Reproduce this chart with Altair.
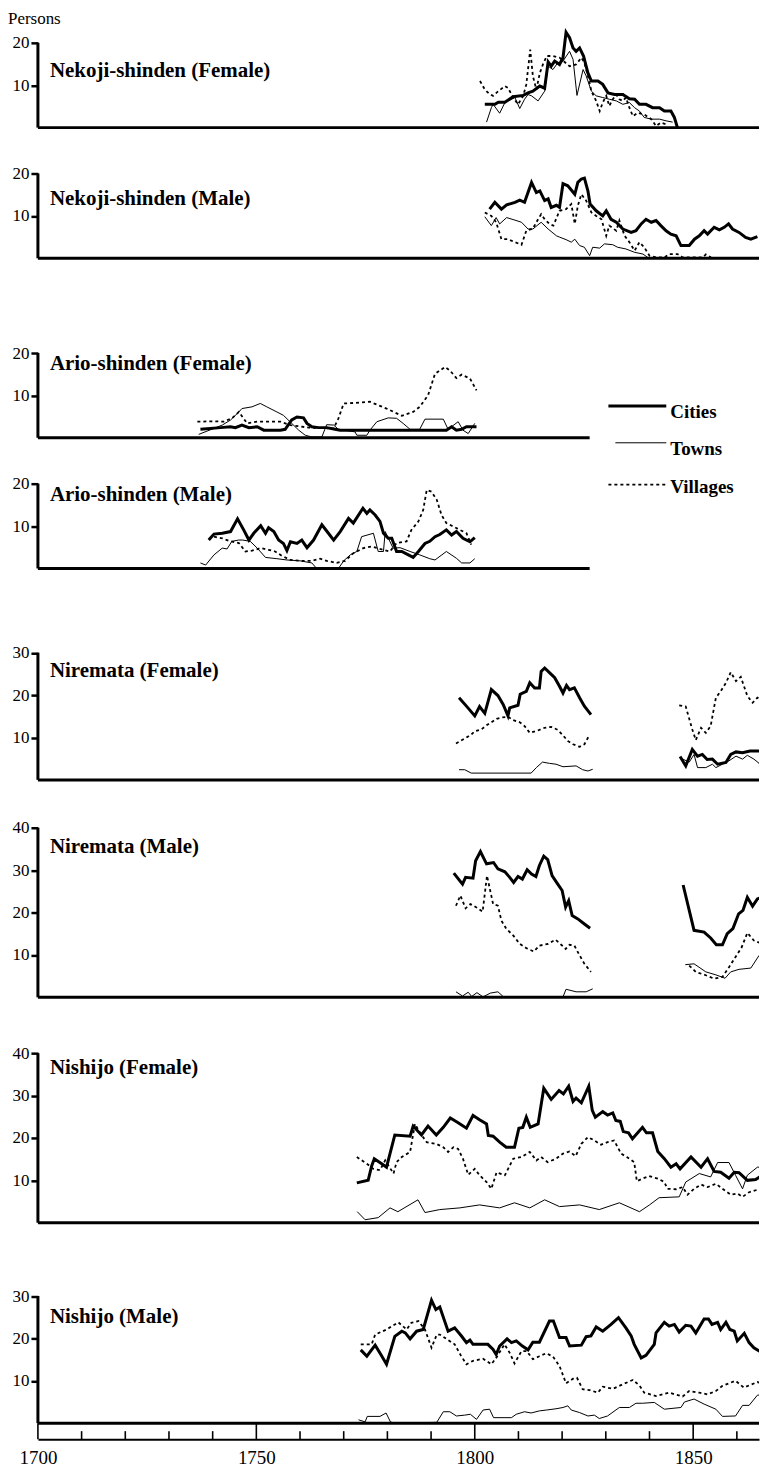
import altair as alt
import pandas as pd

FONT = "Liberation Serif"
YEAR_MIN, YEAR_MAX = 1700, 1865.07
PLOT_W = 723
K = 4.25  # pixels per person

# ---------------- data: (year, persons) ----------------
NEKOJI_F_CITIES = [(1802.3,5.5),(1804.6,5.5),(1805.4,6.0),(1806.9,6.0),(1808.8,7.3),(1811.1,7.6),(1812.2,8.2),(1813.3,8.6),(1814.9,9.8),(1816.0,9.3),(1816.8,15.5),(1817.5,14.5),(1818.3,15.7),(1819.4,14.9),(1820.2,16.5),(1820.9,22.5),(1821.7,21.2),(1822.5,18.8),(1823.2,18.0),(1824.0,18.8),(1824.9,16.9),(1825.9,12.9),(1826.7,11.0),(1828.2,11.0),(1829.3,10.2),(1830.5,8.2),(1832.0,7.8),(1833.9,7.8),(1835.4,6.8),(1836.6,6.7),(1837.7,5.5),(1839.2,5.5),(1840.7,4.7),(1842.3,4.7),(1843.4,3.9),(1844.9,3.9),(1845.7,2.4),(1846.4,0.0)]
NEKOJI_F_TOWNS = [(1802.7,1.3),(1803.8,4.7),(1804.2,5.5),(1805.7,3.4),(1806.9,5.9),(1809.2,7.1),(1810.3,4.5),(1811.4,6.7),(1812.2,7.8),(1813.0,7.5),(1814.5,6.3),(1816.0,8.6),(1816.8,14.5),(1817.9,13.7),(1819.0,15.3),(1820.2,15.7),(1821.7,18.0),(1822.5,16.1),(1823.4,7.6),(1824.8,13.7),(1825.5,12.2),(1826.7,8.6),(1827.8,7.5),(1829.3,7.1),(1830.8,6.7),(1832.4,6.3),(1833.9,5.5),(1835.4,5.9),(1836.6,4.7),(1837.7,3.9),(1838.8,2.4),(1840.4,2.0),(1842.3,2.0),(1843.8,1.6),(1845.3,1.3)]
NEKOJI_F_VILLAGES = [(1801.2,11.0),(1802.3,9.0),(1803.4,7.9),(1804.2,7.5),(1805.4,8.6),(1806.9,9.8),(1807.6,9.4),(1808.8,7.1),(1809.9,5.5),(1811.1,7.5),(1811.8,10.2),(1812.7,18.4),(1813.3,12.2),(1814.1,9.0),(1814.9,12.9),(1815.6,14.9),(1816.5,16.9),(1817.9,16.9),(1819.4,16.5),(1821.7,14.5),(1823.2,14.9),(1824.4,16.5),(1825.1,15.3),(1825.9,12.2),(1826.7,8.6),(1827.8,6.3),(1828.6,3.9),(1829.3,5.9),(1830.1,7.5),(1830.8,5.1),(1831.6,6.7),(1832.4,7.8),(1833.1,6.7),(1833.9,6.3),(1834.6,7.1),(1835.4,4.7),(1836.2,2.7),(1837.3,3.5),(1838.8,3.1),(1840.4,2.0),(1841.5,0.4),(1842.6,1.2),(1843.8,0.8)]

NEKOJI_M_CITIES = [(1803.4,11.6),(1804.6,13.2),(1806.1,11.6),(1807.3,12.6),(1809.2,13.2),(1810.3,13.7),(1811.4,13.2),(1813.0,17.9),(1814.1,15.5),(1814.9,15.9),(1816.0,13.6),(1816.8,14.0),(1817.5,12.0),(1818.7,12.5),(1819.4,12.0),(1820.2,17.6),(1821.3,17.1),(1822.9,15.1),(1823.6,17.9),(1824.4,18.7),(1825.1,18.9),(1825.9,15.9),(1826.4,12.8),(1827.8,11.2),(1829.3,10.0),(1830.1,11.2),(1831.2,9.2),(1832.4,8.5),(1833.9,6.9),(1835.8,6.1),(1836.9,6.5),(1838.1,8.1),(1839.2,9.2),(1840.4,8.5),(1841.5,8.9),(1842.6,7.7),(1843.8,6.5),(1844.9,5.7),(1846.1,5.3),(1847.2,3.0),(1849.1,3.0),(1850.3,4.5),(1851.4,5.3),(1852.5,6.5),(1853.3,5.7),(1854.8,7.3),(1856.0,6.7),(1857.1,7.3),(1858.1,8.1),(1859.0,6.9),(1860.5,6.1),(1862.0,4.9),(1863.2,4.5),(1864.7,5.1)]
NEKOJI_M_TOWNS = [(1802.3,9.8),(1803.8,7.7),(1804.9,9.6),(1805.7,8.1),(1807.3,9.6),(1809.2,9.0),(1810.7,8.5),(1812.2,6.9),(1813.3,6.9),(1815.2,8.5),(1816.8,6.9),(1818.7,5.3),(1819.4,5.0),(1820.9,4.4),(1822.1,3.8),(1822.9,4.5),(1824.0,3.0),(1825.1,2.6),(1826.3,0.6),(1827.0,2.6),(1828.6,2.4),(1829.7,3.4),(1831.6,3.2),(1832.7,2.6),(1834.6,2.2),(1836.6,1.4),(1838.5,1.0),(1839.6,0.2),(1841.0,0.0)]
NEKOJI_M_VILLAGES = [(1802.3,10.8),(1803.8,10.0),(1804.9,8.5),(1806.1,4.5),(1807.6,4.5),(1809.2,3.8),(1810.7,3.2),(1811.8,6.5),(1813.3,7.0),(1814.5,9.2),(1815.2,10.4),(1816.0,9.2),(1817.1,8.1),(1818.0,7.7),(1819.4,11.2),(1820.9,11.6),(1822.1,12.8),(1822.9,8.1),(1823.6,12.4),(1824.4,15.1),(1825.5,13.6),(1826.7,10.8),(1827.8,10.0),(1829.0,9.2),(1830.1,5.3),(1830.8,7.7),(1832.4,6.5),(1833.1,8.9),(1834.3,5.3),(1835.4,3.8),(1836.6,1.8),(1837.7,3.8),(1838.8,2.6),(1840.0,0.6),(1841.5,0.2),(1843.4,0.2),(1844.5,1.0),(1846.4,1.0),(1847.6,0.2),(1852.2,0.2),(1852.9,0.9),(1854.1,0.2)]

ARIO_F_CITIES = [(1737.2,2.0),(1741.8,2.4),(1744.1,2.6),(1745.2,2.4),(1746.7,3.0),(1748.3,2.4),(1750.2,2.6),(1751.7,1.8),(1755.5,1.8),(1756.6,2.0),(1758.1,4.2),(1759.3,4.9),(1760.8,4.7),(1761.6,3.4),(1762.7,2.6),(1764.2,2.4),(1766.1,2.4),(1768.0,2.0),(1769.2,1.8),(1793.5,1.8),(1794.7,2.6),(1795.8,1.8),(1797.0,2.0),(1798.1,2.6),(1800.4,2.6)]
ARIO_F_TOWNS = [(1736.8,0.8),(1742.2,3.0),(1744.1,4.2),(1746.0,6.1),(1746.7,6.9),(1749.0,7.3),(1750.9,8.1),(1752.4,7.3),(1754.7,6.1),(1756.2,5.3),(1758.1,3.4),(1759.7,1.8),(1761.2,0.6),(1762.7,0.2),(1765.0,0.2),(1766.1,3.1),(1767.7,3.0),(1768.8,2.0),(1772.6,1.4),(1773.0,0.6),(1775.3,0.6),(1776.0,1.8),(1777.6,3.8),(1780.2,4.7),(1782.1,4.6),(1783.6,3.4),(1785.2,2.0),(1787.4,2.0),(1788.6,4.4),(1792.8,4.4),(1793.9,2.0),(1796.2,3.8),(1797.3,1.8),(1798.5,1.0),(1800.0,3.4)]
ARIO_F_VILLAGES = [(1736.5,3.8),(1740.3,3.9),(1742.5,3.8),(1744.4,4.6),(1746.0,6.1),(1747.9,3.4),(1750.2,3.8),(1755.5,3.8),(1757.8,3.0),(1762.0,2.4),(1767.7,2.2),(1768.8,4.6),(1770.0,8.1),(1770.7,8.1),(1776.0,8.5),(1779.8,6.9),(1783.3,5.2),(1785.9,6.1),(1787.4,7.3),(1789.3,10.0),(1790.9,15.1),(1793.2,16.7),(1794.3,15.9),(1795.8,14.1),(1797.0,14.9),(1798.9,14.0),(1800.4,11.2)]

ARIO_M_CITIES = [(1739.1,6.7),(1740.3,8.1),(1742.2,8.3),(1744.1,8.7),(1745.7,11.7),(1747.1,9.1),(1748.3,6.7),(1749.4,8.3),(1751.0,10.1),(1752.1,8.3),(1752.8,9.6),(1754.0,8.7),(1755.1,6.7),(1756.2,5.9),(1757.0,4.2),(1757.8,6.3),(1759.3,5.9),(1760.4,6.7),(1761.6,4.9),(1763.1,6.7),(1765.0,10.3),(1766.5,8.3),(1767.7,6.7),(1769.2,8.7),(1771.1,11.8),(1772.2,10.7),(1774.4,14.2),(1775.3,13.0),(1776.0,13.8),(1777.2,12.6),(1778.3,11.1),(1779.1,8.3),(1780.2,7.1),(1781.0,7.1),(1782.1,4.0),(1783.3,4.0),(1784.8,3.2),(1785.9,2.6),(1787.1,4.0),(1788.6,5.9),(1789.7,6.4),(1790.9,7.5),(1792.0,8.0),(1793.5,9.1),(1794.7,7.9),(1795.8,8.7),(1797.3,7.1),(1798.9,6.3),(1800.0,7.3)]
ARIO_M_TOWNS = [(1737.2,1.3),(1738.4,0.8),(1740.3,3.2),(1742.2,4.8),(1743.3,4.6),(1744.4,6.4),(1745.9,6.7),(1746.9,6.7),(1748.6,6.4),(1750.2,4.8),(1752.1,2.6),(1754.7,2.3),(1757.0,2.0),(1760.0,1.8),(1762.7,1.3),(1763.8,0.0),(1768.8,0.0),(1770.0,1.8),(1771.5,3.2),(1773.0,4.0),(1774.1,7.5),(1776.8,8.3),(1777.9,4.0),(1779.1,4.0),(1779.5,8.7),(1781.3,4.8),(1782.9,4.9),(1785.2,4.0),(1787.4,3.2),(1789.7,2.3),(1790.9,2.0),(1793.5,4.0),(1795.8,2.4),(1797.0,1.3),(1798.9,1.3),(1800.0,2.3)]
ARIO_M_VILLAGES = [(1740.3,7.5),(1742.2,7.1),(1744.1,6.4),(1746.0,6.0),(1747.5,4.0),(1749.0,4.2),(1751.0,4.8),(1752.8,4.4),(1754.3,4.0),(1755.8,3.0),(1757.8,2.0),(1760.4,1.8),(1762.7,1.8),(1764.6,2.3),(1766.1,1.8),(1768.4,1.3),(1770.3,1.8),(1772.2,3.6),(1774.5,4.8),(1776.4,5.2),(1778.3,4.6),(1780.6,4.0),(1782.1,6.0),(1784.4,6.4),(1785.5,9.1),(1787.1,11.1),(1788.2,13.8),(1789.0,18.5),(1790.1,18.1),(1791.3,16.2),(1792.4,12.6),(1793.5,10.7),(1795.1,9.9),(1798.1,8.3),(1799.2,5.6)]

NIREMATA_F_CITIES_A = [(1796.4,19.4),(1798.1,17.4),(1800.0,15.1),(1801.1,17.3),(1802.3,15.7),(1803.8,21.3),(1805.3,19.9),(1806.5,17.8),(1807.6,15.1),(1808.0,17.0),(1809.9,17.6),(1810.4,20.2),(1811.8,20.9),(1812.6,22.9),(1813.7,21.7),(1814.8,21.7),(1815.2,25.6),(1816.0,26.4),(1817.1,25.3),(1818.3,24.1),(1819.4,22.1),(1820.2,20.5),(1821.0,22.3),(1821.7,21.3),(1822.8,21.7),(1824.0,19.4),(1825.1,17.4),(1826.6,15.4)]
NIREMATA_F_CITIES_B = [(1847.0,5.5),(1848.3,3.3),(1849.8,7.2),(1851.0,5.6),(1852.1,6.0),(1853.2,4.8),(1854.4,4.9),(1855.6,3.7),(1857.5,4.1),(1858.6,6.0),(1859.8,6.6),(1861.3,6.4),(1863.0,6.8),(1865.4,6.8),(1866.6,8.0)]
NIREMATA_F_TOWNS_A = [(1796.4,2.4),(1797.7,2.4),(1799.2,1.6),(1812.9,1.6),(1814.1,2.9),(1815.5,4.2),(1817.1,3.9),(1818.6,3.7),(1820.2,3.1),(1823.2,3.3),(1824.7,2.4),(1825.9,2.1),(1827.0,2.5)]
NIREMATA_F_TOWNS_B = [(1847.6,4.9),(1849.1,4.2),(1850.2,6.0),(1851.0,2.9),(1852.9,2.9),(1854.4,3.7),(1855.2,2.9),(1856.7,3.7),(1858.2,4.5),(1859.8,5.6),(1861.3,4.9),(1862.4,5.8),(1863.9,4.9),(1865.1,3.9),(1866.2,5.6)]
NIREMATA_F_VILLAGES_A = [(1795.7,8.6),(1798.1,10.0),(1799.2,10.7),(1800.0,11.5),(1801.5,11.9),(1802.7,12.9),(1803.8,13.6),(1805.0,14.4),(1806.1,14.7),(1807.6,14.9),(1808.8,14.1),(1810.3,13.6),(1811.4,12.7),(1812.6,11.1),(1814.1,11.5),(1816.0,12.3),(1817.5,12.5),(1819.0,11.8),(1820.2,10.5),(1821.3,9.2),(1822.5,8.4),(1824.0,7.8),(1825.1,8.4),(1826.1,10.3)]
NIREMATA_F_VILLAGES_B = [(1846.8,17.6),(1848.3,17.3),(1849.8,11.9),(1850.6,9.4),(1851.8,12.3),(1852.9,11.1),(1854.0,12.7),(1855.2,19.4),(1856.3,20.9),(1857.5,22.9),(1858.6,25.4),(1859.8,23.3),(1860.9,24.3),(1862.4,19.8),(1863.6,18.2),(1864.7,19.4),(1866.2,18.4)]

NIREMATA_M_CITIES_A = [(1795.2,29.3),(1797.2,26.7),(1797.9,28.3),(1799.6,28.1),(1800.2,32.2),(1801.3,34.4),(1802.7,31.5),(1804.3,31.8),(1805.3,30.3),(1806.9,29.6),(1808.0,28.3),(1808.9,27.1),(1809.9,28.5),(1810.9,27.9),(1812.0,30.1),(1813.0,29.1),(1814.0,28.5),(1814.8,31.1),(1815.8,33.3),(1816.7,32.5),(1817.7,28.7),(1819.0,26.7),(1820.0,25.2),(1820.8,21.3),(1821.5,22.8),(1822.3,19.3),(1823.6,18.5),(1825.1,17.3),(1826.4,16.3)]
NIREMATA_M_CITIES_B = [(1847.7,26.5),(1850.2,15.8),(1852.5,15.4),(1854.0,14.0),(1855.3,12.4),(1856.7,12.4),(1857.8,15.0),(1859.1,16.2),(1860.4,19.7),(1861.4,20.5),(1862.4,23.6),(1863.6,21.5),(1864.7,23.2),(1866.2,23.8)]
NIREMATA_M_TOWNS_A = [(1795.7,1.3),(1797.2,0.3),(1798.5,1.2),(1799.3,0.2),(1800.5,1.1),(1801.9,0.1),(1803.6,1.0),(1805.3,1.3),(1806.6,0.1),(1820.2,0.1),(1820.9,1.9),(1823.2,1.3),(1825.5,1.3),(1827.0,2.0)]
NIREMATA_M_TOWNS_B = [(1848.2,7.7),(1850.2,7.9),(1852.9,6.0),(1855.2,5.3),(1857.3,4.5),(1858.6,6.0),(1860.5,6.6),(1863.2,6.9),(1865.1,9.9),(1867.0,10.0)]
NIREMATA_M_VILLAGES_A = [(1795.7,21.6),(1796.7,24.0),(1797.9,21.0),(1799.0,22.0),(1800.4,21.2),(1801.8,20.2),(1802.8,28.7),(1804.2,22.0),(1805.3,21.6),(1806.1,18.1),(1807.2,16.2),(1808.8,14.6),(1810.3,12.6),(1811.8,11.6),(1813.5,10.8),(1814.8,12.2),(1816.8,12.6),(1818.5,13.6),(1819.8,12.4),(1820.8,11.4),(1821.7,12.4),(1822.8,12.2),(1824.0,9.9),(1825.1,7.9),(1826.6,6.0)]
NIREMATA_M_VILLAGES_B = [(1849.1,7.5),(1850.6,6.0),(1852.9,5.2),(1854.8,4.4),(1856.7,4.8),(1858.2,7.1),(1861.1,11.8),(1862.4,15.2),(1863.9,13.4),(1865.8,12.6),(1867.0,11.4)]

NISHIJO_F_CITIES = [(1773.0,9.4),(1775.6,10.0),(1776.4,13.4),(1777.0,15.1),(1778.7,13.9),(1779.8,13.1),(1781.7,20.7),(1785.2,20.4),(1785.9,22.8),(1787.8,20.7),(1789.3,22.8),(1791.2,20.7),(1792.8,22.5),(1794.4,24.7),(1796.2,23.6),(1798.1,22.3),(1799.6,25.3),(1801.1,24.3),(1802.7,23.3),(1803.1,20.6),(1804.2,20.4),(1805.7,19.0),(1807.2,17.8),(1809.1,17.8),(1810.1,22.3),(1811.0,22.5),(1811.8,24.9),(1812.7,22.5),(1814.5,23.3),(1815.8,31.7),(1817.5,29.1),(1819.3,31.2),(1820.3,30.4),(1821.5,32.2),(1822.5,28.6),(1823.2,29.4),(1824.4,28.3),(1826.1,32.2),(1826.9,26.5),(1827.6,24.9),(1829.3,26.2),(1830.4,25.4),(1831.6,25.9),(1832.3,24.1),(1833.3,23.9),(1834.0,21.5),(1835.2,21.2),(1836.1,19.8),(1837.3,21.2),(1838.4,22.5),(1839.3,21.2),(1840.7,21.2),(1841.9,16.8),(1843.4,15.1),(1844.9,13.1),(1846.1,13.9),(1847.0,12.7),(1849.5,15.5),(1851.8,13.1),(1853.3,15.1),(1854.8,12.1),(1856.3,11.9),(1858.2,10.5),(1859.4,11.9),(1860.5,11.8),(1862.4,10.0),(1864.3,10.2),(1865.8,11.2),(1867.0,12.3)]
NISHIJO_F_TOWNS = [(1773.1,2.6),(1774.9,0.7),(1777.9,1.2),(1780.6,3.5),(1782.4,2.6),(1787.0,5.4),(1788.6,2.4),(1792.0,3.1),(1796.6,3.5),(1801.1,4.2),(1805.7,3.5),(1809.1,4.7),(1812.6,3.5),(1816.0,5.4),(1819.4,3.8),(1824.0,4.2),(1828.5,3.1),(1833.1,4.7),(1837.7,2.6),(1840.0,4.2),(1842.2,5.9),(1846.8,6.1),(1848.3,9.6),(1851.4,11.6),(1854.0,10.8),(1855.6,14.2),(1858.2,14.2),(1859.7,11.2),(1861.3,8.0),(1862.4,11.2),(1864.7,13.1),(1867.1,13.1)]
NISHIJO_F_VILLAGES = [(1773.0,15.5),(1775.3,13.9),(1776.8,12.7),(1778.3,12.4),(1779.5,14.7),(1781.4,11.6),(1782.1,14.3),(1783.3,15.5),(1785.2,16.7),(1786.3,23.3),(1787.6,21.0),(1789.0,19.0),(1791.2,18.6),(1792.8,17.8),(1793.9,16.7),(1795.1,17.8),(1796.2,17.4),(1797.3,15.1),(1798.5,11.3),(1800.0,12.7),(1801.1,11.2),(1802.7,9.6),(1803.8,8.0),(1805.0,11.9),(1806.9,11.2),(1808.8,15.1),(1810.7,15.5),(1812.6,16.7),(1814.1,14.7),(1815.2,15.5),(1816.7,14.3),(1818.6,15.1),(1820.2,16.3),(1821.7,16.8),(1823.1,15.7),(1824.4,18.6),(1825.9,20.2),(1827.4,19.4),(1828.9,18.4),(1830.4,19.0),(1831.9,19.4),(1833.5,16.3),(1834.8,15.5),(1836.5,14.3),(1837.1,9.8),(1838.4,10.4),(1839.9,11.0),(1841.9,10.4),(1843.4,9.6),(1844.1,8.0),(1846.1,7.9),(1847.6,8.4),(1848.7,6.6),(1850.2,8.0),(1851.8,9.0),(1853.3,8.4),(1855.2,9.2),(1856.7,8.0),(1858.6,6.6),(1860.1,6.9),(1861.3,6.1),(1862.8,7.2),(1865.1,7.9),(1867.0,7.4)]

NISHIJO_M_CITIES = [(1773.9,17.3),(1775.3,15.8),(1777.2,18.4),(1778.5,16.2),(1779.8,13.9),(1781.7,20.5),(1783.3,21.7),(1784.1,21.3),(1785.2,19.9),(1786.7,21.7),(1788.2,22.1),(1790.1,29.0),(1791.1,26.8),(1792.0,27.4),(1793.9,21.7),(1795.4,22.5),(1797.0,20.5),(1798.1,19.0),(1798.9,19.6),(1799.6,18.6),(1803.0,18.6),(1804.2,17.4),(1804.9,16.2),(1805.7,18.2),(1807.4,19.9),(1808.4,19.0),(1809.5,19.4),(1810.9,18.2),(1812.2,17.3),(1813.3,19.1),(1814.8,19.1),(1817.1,24.1),(1818.0,24.1),(1819.4,20.2),(1820.9,20.2),(1821.7,18.2),(1824.4,18.4),(1825.5,20.4),(1826.6,20.6),(1827.8,22.7),(1829.3,21.7),(1831.2,23.3),(1832.9,24.9),(1834.6,22.5),(1835.8,20.6),(1836.5,18.6),(1838.1,15.4),(1839.2,16.0),(1841.1,18.6),(1841.5,21.3),(1843.4,23.8),(1844.5,22.9),(1845.7,23.3),(1846.8,21.5),(1848.3,23.1),(1849.5,22.9),(1850.6,21.3),(1852.5,24.6),(1853.5,24.6),(1854.3,23.3),(1855.6,23.8),(1856.3,22.1),(1857.5,23.8),(1858.4,22.1),(1859.4,21.7),(1860.1,19.4),(1861.7,21.2),(1862.8,19.0),(1863.9,17.8),(1865.2,17.0),(1867.1,17.2)]
NISHIJO_M_TOWNS = [(1773.4,0.8),(1774.9,0.3),(1775.4,1.6),(1778.3,1.6),(1779.7,2.4),(1780.7,0.3),(1781.5,0.0),(1791.3,0.2),(1792.8,2.7),(1794.3,2.7),(1795.8,1.7),(1797.7,1.9),(1799.0,2.1),(1800.4,0.9),(1801.9,3.1),(1803.4,3.3),(1804.3,1.3),(1808.4,1.3),(1809.5,2.1),(1811.4,2.7),(1812.9,2.4),(1814.8,2.9),(1816.4,3.1),(1818.6,3.4),(1820.2,3.7),(1821.3,4.1),(1822.1,3.1),(1824.0,2.5),(1825.9,1.7),(1827.4,1.9),(1828.5,1.1),(1830.4,1.7),(1833.1,3.7),(1835.4,3.7),(1836.9,4.7),(1838.4,4.7),(1841.1,4.9),(1843.4,3.3),(1847.2,3.7),(1848.0,5.0),(1850.2,5.7),(1852.5,4.5),(1855.2,3.3),(1856.7,1.6),(1859.7,1.7),(1861.3,4.2),(1862.8,4.2),(1864.7,6.6),(1867.1,6.8)]
NISHIJO_M_VILLAGES = [(1773.9,18.6),(1776.4,18.6),(1777.2,20.9),(1779.8,22.1),(1782.5,23.8),(1784.4,22.1),(1785.5,23.7),(1787.1,24.1),(1788.6,22.1),(1790.1,17.8),(1791.3,20.9),(1792.0,20.9),(1793.5,19.9),(1795.4,18.6),(1796.8,16.0),(1798.1,13.9),(1799.6,14.7),(1801.9,15.2),(1803.8,13.9),(1804.9,15.4),(1806.8,18.6),(1808.0,16.6),(1809.1,14.1),(1810.7,17.0),(1811.9,17.0),(1813.3,15.1),(1814.8,15.8),(1816.4,16.5),(1817.9,15.7),(1819.4,13.5),(1820.9,9.4),(1822.5,10.5),(1823.4,10.7),(1824.7,8.0),(1826.3,7.8),(1828.2,7.2),(1829.3,8.6),(1831.6,8.1),(1833.9,9.2),(1836.2,10.2),(1837.7,8.9),(1838.8,7.2),(1841.5,6.4),(1844.5,7.2),(1847.6,6.3),(1849.1,7.6),(1851.4,7.2),(1853.3,6.8),(1855.2,7.6),(1856.7,8.8),(1859.7,10.0),(1861.6,8.4),(1864.7,9.7),(1867.1,8.9)]

TITLES = ["Nekoji-shinden (Female)", "Nekoji-shinden (Male)", "Ario-shinden (Female)",
          "Ario-shinden (Male)", "Niremata (Female)", "Niremata (Male)",
          "Nishijo (Female)", "Nishijo (Male)"]
TOP_TICKS = [20, 20, 20, 20, 30, 40, 40, 30]
SERIES = [
    {"Cities": [NEKOJI_F_CITIES], "Towns": [NEKOJI_F_TOWNS], "Villages": [NEKOJI_F_VILLAGES]},
    {"Cities": [NEKOJI_M_CITIES], "Towns": [NEKOJI_M_TOWNS], "Villages": [NEKOJI_M_VILLAGES]},
    {"Cities": [ARIO_F_CITIES], "Towns": [ARIO_F_TOWNS], "Villages": [ARIO_F_VILLAGES]},
    {"Cities": [ARIO_M_CITIES], "Towns": [ARIO_M_TOWNS], "Villages": [ARIO_M_VILLAGES]},
    {"Cities": [NIREMATA_F_CITIES_A, NIREMATA_F_CITIES_B], "Towns": [NIREMATA_F_TOWNS_A, NIREMATA_F_TOWNS_B],
     "Villages": [NIREMATA_F_VILLAGES_A, NIREMATA_F_VILLAGES_B]},
    {"Cities": [NIREMATA_M_CITIES_A, NIREMATA_M_CITIES_B], "Towns": [NIREMATA_M_TOWNS_A, NIREMATA_M_TOWNS_B],
     "Villages": [NIREMATA_M_VILLAGES_A, NIREMATA_M_VILLAGES_B]},
    {"Cities": [NISHIJO_F_CITIES], "Towns": [NISHIJO_F_TOWNS], "Villages": [NISHIJO_F_VILLAGES]},
    {"Cities": [NISHIJO_M_CITIES], "Towns": [NISHIJO_M_TOWNS], "Villages": [NISHIJO_M_VILLAGES]},
]
MAJOR_YEARS = [1700, 1750, 1800, 1850]
MINOR_YEARS = [1710, 1720, 1730, 1740, 1760, 1770, 1780, 1790, 1810, 1820, 1830, 1840, 1860]
LEGEND = ["Cities", "Towns", "Villages"]

# ---------------- layout (pixels) ----------------
PANEL_H = [117, 131, 180, 131, 212, 218, 226, 201]
TITLE_Y = [60, 72, 106, 57, 103, 67, 71, 95]
BASE_END = [YEAR_MAX, YEAR_MAX, 1826.3, 1826.3, YEAR_MAX, YEAR_MAX, YEAR_MAX, YEAR_MAX]
STYLE = {"Villages": dict(strokeWidth=1.8, strokeDash=[3, 3]),
         "Towns": dict(strokeWidth=1),
         "Cities": dict(strokeWidth=3)}

xs = alt.Scale(domain=[YEAR_MIN, YEAR_MAX], nice=False, zero=False)
one = pd.DataFrame({"k": [0]})


def make_panel(i):
    rows = []
    for s, segs in SERIES[i].items():
        for j, seg in enumerate(segs):
            for yr, v in seg:
                rows.append({"year": yr, "v": v, "series": s, "seg": f"{s}{j}"})
    df = pd.DataFrame(rows)
    top = TOP_TICKS[i]
    ys = alt.Scale(domain=[0, PANEL_H[i] / K], nice=False, zero=False)
    yax = alt.Axis(values=list(range(10, top + 1, 10)), domain=False, tickSize=7, tickWidth=2.5,
                   tickColor="black", labelFont=FONT, labelFontSize=17, labelColor="black",
                   labelPadding=2, grid=False, title=None, minExtent=30, maxExtent=30)
    x = alt.X("year:Q", scale=xs, axis=None)
    y = alt.Y("v:Q", scale=ys, axis=yax)
    layers = []
    for s in ["Villages", "Towns", "Cities"]:
        layers.append(
            alt.Chart(df).transform_filter(alt.datum.series == s)
            .mark_line(color="black", clip=True, strokeJoin="miter", **STYLE[s])
            .encode(x=x, y=y, detail="seg:N", order="year:Q")
        )
    layers.append(alt.Chart(one).mark_rule(color="black", strokeWidth=3).encode(
        x=alt.XDatum(YEAR_MIN, scale=xs, axis=None), x2=alt.X2Datum(BASE_END[i]),
        y=alt.YDatum(0, scale=ys, axis=yax)))
    layers.append(alt.Chart(one).mark_rule(color="black", strokeWidth=3).encode(
        x=alt.value(0), y=alt.YDatum(0, scale=ys, axis=yax), y2=alt.Y2Datum(top)))
    layers.append(alt.Chart(one).mark_text(font=FONT, fontSize=21, fontWeight="bold", align="left",
                                           baseline="middle", color="black").encode(
        x=alt.value(12), y=alt.value(TITLE_Y[i]), text=alt.value(TITLES[i])))
    if i == 0:
        layers.append(alt.Chart(one).mark_text(font=FONT, fontSize=17, align="left",
                                               baseline="middle", color="black").encode(
            x=alt.value(-30), y=alt.value(8), text=alt.value("Persons")))
    if i == 2:
        leg = [(148, 154, 572, dict(strokeWidth=3)),
               (185, 191, 579, dict(strokeWidth=1)),
               (227, 229, 572, dict(strokeWidth=1.8, strokeDash=[3, 3]))]
        for name, (ly, ty, lx, st) in zip(LEGEND, leg):
            layers.append(alt.Chart(one).mark_rule(color="black", **st).encode(
                x=alt.value(lx), x2=alt.value(630), y=alt.value(ly)))
            layers.append(alt.Chart(one).mark_text(font=FONT, fontSize=19, fontWeight="bold",
                                                   align="left", baseline="middle", color="black").encode(
                x=alt.value(634), y=alt.value(ty), text=alt.value(name)))
    return alt.layer(*layers).properties(width=PLOT_W, height=PANEL_H[i])


panels = [make_panel(i) for i in range(8)]

tick_df = pd.DataFrame({"year": MAJOR_YEARS + MINOR_YEARS,
                        "kind": ["major"] * len(MAJOR_YEARS) + ["minor"] * len(MINOR_YEARS)})
xax = alt.Axis(values=MAJOR_YEARS, format="d", tickSize=0, domainWidth=2, domainColor="black",
               labelFont=FONT, labelFontSize=19, labelColor="black", labelPadding=9,
               grid=False, title=None, labelFlush=False)
strip = alt.layer(
    alt.Chart(tick_df).transform_filter(alt.datum.kind == "major")
    .mark_rule(color="black", strokeWidth=1.6)
    .encode(x=alt.X("year:Q", scale=xs, axis=xax), y=alt.value(0), y2=alt.value(16)),
    alt.Chart(tick_df).transform_filter(alt.datum.kind == "minor")
    .mark_rule(color="black", strokeWidth=1.6)
    .encode(x=alt.X("year:Q", scale=xs, axis=xax), y=alt.value(8), y2=alt.value(16)),
).properties(width=PLOT_W, height=16)

chart = alt.vconcat(*panels, strip, spacing=0, bounds="flush").properties(
    padding={"left": 0, "right": 0, "top": 0, "bottom": 0},
    background="white",
).configure_view(stroke=None)

chart.save("out.html", embed_options={"renderer": "svg", "actions": False})
